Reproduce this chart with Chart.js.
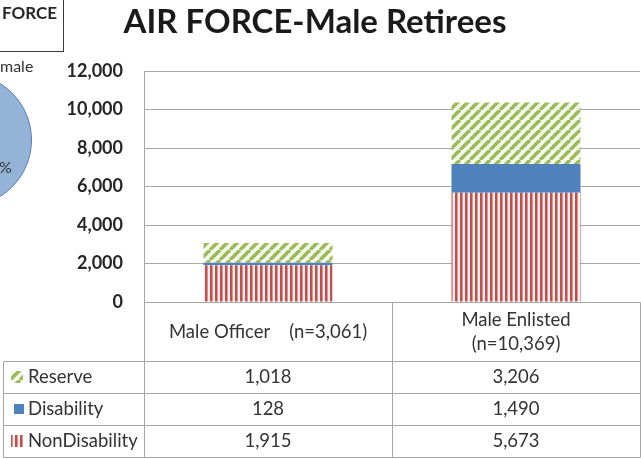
<!DOCTYPE html>
<html>
<head>
<meta charset="utf-8">
<script src="https://cdn.jsdelivr.net/npm/chart.js@4.4.1/dist/chart.umd.min.js"></script>
<style>
  html, body { margin: 0; padding: 0; background: #fff; }
  body { width: 641px; height: 459px; position: relative; overflow: hidden; font-family: Lato, "Noto Sans", sans-serif; color: #262626; }
  #main { position: absolute; left: 0; top: 0; }
  #title { position: absolute; left: 115px; width: 400px; top: 0; text-align: center; font-weight: bold; font-size: 33px; color: #1a1a1a; white-space: nowrap; }
  /* fragments of the neighbouring chart, cropped at the left edge */
  #fragBox { position: absolute; left: -40px; top: -1px; width: 104px; height: 53px; border: 1px solid #3a3a3a; box-sizing: border-box; }
  #fragBox span { position: absolute; right: 6px; top: 2px; font-weight: bold; font-size: 17px; }
  #fragMale { position: absolute; left: 0; top: 56px; font-size: 16px; color: #333; }
  #fragPct { position: absolute; left: -1px; top: 157px; font-size: 16px; color: #333; }
  #pieWrap { position: absolute; left: -102px; top: 73px; width: 134px; height: 134px; }
</style>
</head>
<body>
<canvas id="main" width="641" height="459"></canvas>
<div id="title">AIR FORCE-Male Retirees</div>
<div id="fragBox"><span>FORCE</span></div>
<div id="fragMale">male</div>
<div id="pieWrap"><canvas id="pie"></canvas></div>
<div id="fragPct">%</div>
<script>
// ---- data ----
const categories = [['Male Officer    (n=3,061)'], ['Male Enlisted', '(n=10,369)']];
const seriesNames = ['NonDisability', 'Disability', 'Reserve'];
const nonDisability = [1915, 5673];
const disability = [128, 1490];
const reserve = [1018, 3206];
const yTicks = [0, 2000, 4000, 6000, 8000, 10000, 12000];
const pieSlices = [100];

// ---- fills ----
function diagPattern(size) {
  const c = document.createElement('canvas');
  c.width = size; c.height = size;
  const g = c.getContext('2d');
  g.fillStyle = '#f7fbef';
  g.fillRect(0, 0, size, size);
  g.strokeStyle = '#9bbb59';
  g.lineWidth = 3.5;
  for (const o of [-size, 0, size]) {
    g.beginPath();
    g.moveTo(o, size);
    g.lineTo(o + size, 0);
    g.stroke();
  }
  return g.createPattern(c, 'repeat');
}

function vertPattern() {
  const c = document.createElement('canvas');
  c.width = 5; c.height = 5;
  const g = c.getContext('2d');
  g.fillStyle = '#fcefef';
  g.fillRect(0, 0, 5, 5);
  g.fillStyle = '#c0504d';
  g.fillRect(0, 0, 2, 5);
  g.fillStyle = '#dc9593';
  g.fillRect(2, 0, 1, 5);
  return g.createPattern(c, 'repeat');
}

const fills = {
  NonDisability: vertPattern(),
  Disability: '#4f81bd',
  Reserve: diagPattern(10),
};
const seriesData = { NonDisability: nonDisability, Disability: disability, Reserve: reserve };

const gridColor = '#a6a6a6';
const fmt = v => v.toLocaleString('en-US');

// ---- data table under the plot ----
const dataTable = {
  id: 'dataTable',
  afterDraw(chart) {
    const { ctx, scales: { x, y } } = chart;
    const colW = (x.right - x.left) / categories.length;
    const headTop = y.bottom;
    const headBottom = y.bottom + 59;
    const rowH = 32;
    const tableLeft = 3;
    const rowOrder = ['Reserve', 'Disability', 'NonDisability'];
    const tableBottom = headBottom + rowH * rowOrder.length;

    ctx.save();
    ctx.strokeStyle = gridColor;
    ctx.lineWidth = 1;
    const line = (x1, y1, x2, y2) => {
      ctx.beginPath();
      ctx.moveTo(Math.round(x1) + 0.5, Math.round(y1) + 0.5);
      ctx.lineTo(Math.round(x2) + 0.5, Math.round(y2) + 0.5);
      ctx.stroke();
    };

    // header cells
    line(x.left, headTop, x.left, headBottom);
    for (let i = 0; i < categories.length; i++) {
      line(x.left + colW * (i + 1), headTop, x.left + colW * (i + 1), tableBottom);
    }
    line(x.left, headTop, x.right, headTop);
    // body grid
    for (let r = 0; r <= rowOrder.length; r++) {
      line(tableLeft, headBottom + rowH * r, x.right, headBottom + rowH * r);
    }
    line(tableLeft, headBottom, tableLeft, tableBottom);
    line(x.left, headBottom, x.left, tableBottom);

    ctx.fillStyle = '#333';
    ctx.font = '18.5px Lato, "Noto Sans", sans-serif';
    ctx.textBaseline = 'middle';
    ctx.textAlign = 'center';
    categories.forEach((lines, i) => {
      const cx = x.getPixelForValue(i);
      const mid = (headTop + headBottom) / 2 + 1;
      lines.forEach((t, k) => {
        ctx.fillText(t, cx, mid + (k - (lines.length - 1) / 2) * 24);
      });
    });

    rowOrder.forEach((name, r) => {
      const cy = headBottom + rowH * r + rowH / 2;
      // legend key
      ctx.fillStyle = fills[name];
      if (name === 'Disability') ctx.fillRect(14, cy - 5, 10, 10);
      else ctx.fillRect(11, cy - 6, 12, 12);
      ctx.fillStyle = '#333';
      ctx.textAlign = 'left';
      ctx.fillText(name, 28, cy);
      ctx.textAlign = 'center';
      seriesData[name].forEach((v, i) => {
        ctx.fillText(fmt(v), x.getPixelForValue(i), cy);
      });
    });
    ctx.restore();
  }
};

new Chart(document.getElementById('main'), {
  type: 'bar',
  data: {
    labels: categories,
    datasets: seriesNames.map(name => ({
      label: name,
      data: seriesData[name],
      backgroundColor: fills[name],
      borderWidth: 0,
      categoryPercentage: 0.52,
      barPercentage: 1,
    })),
  },
  options: {
    responsive: false,
    animation: false,
    events: [],
    layout: { padding: { top: 71, bottom: 157, left: 0, right: 1 } },
    plugins: { legend: { display: false }, tooltip: { enabled: false } },
    scales: {
      x: { stacked: true, display: false },
      y: {
        stacked: true,
        min: 0,
        max: 12000,
        afterBuildTicks: s => { s.ticks = yTicks.map(v => ({ value: v })); },
        afterFit: s => { s.width = 144; },
        border: { color: gridColor, width: 1 },
        grid: { color: gridColor, lineWidth: 1, drawTicks: false },
        ticks: {
          padding: 21,
          color: '#262626',
          font: { family: 'Lato, "Noto Sans", sans-serif', size: 18, weight: 'bold' },
          callback: v => fmt(v),
        },
      },
    },
  },
  plugins: [dataTable],
});

// cropped pie of the neighbouring chart
new Chart(document.getElementById('pie'), {
  type: 'pie',
  data: {
    labels: ['Male'],
    datasets: [{ data: pieSlices, backgroundColor: '#95b3d7', borderColor: '#4f81bd', borderWidth: 1 }],
  },
  options: {
    responsive: true,
    maintainAspectRatio: false,
    animation: false,
    events: [],
    plugins: { legend: { display: false }, tooltip: { enabled: false } },
  },
});
</script>
</body>
</html>
